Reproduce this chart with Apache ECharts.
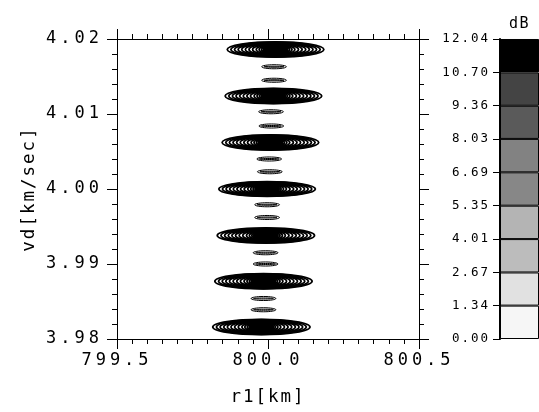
<!DOCTYPE html>
<html><head><meta charset="utf-8">
<script src="https://cdn.jsdelivr.net/npm/echarts@6/dist/echarts.min.js"></script>
<style>html,body{margin:0;padding:0;background:#fff}#c{width:539px;height:412px}</style>
</head><body><div id="c"></div>
<script>
// ---- big contour blobs: centre r1 [km], centre vd [km/sec], half sizes ----
var blobR1 = [799.978, 799.985, 799.993, 799.997, 800.008, 800.018, 800.025];
var blobVd = [3.9816, 3.9877, 3.9938, 4.0000, 4.0062, 4.0124, 4.0186];
var blobHalfR1 = [0.161, 0.161, 0.161, 0.160, 0.160, 0.160, 0.160];
var blobHalfVd = [0.00102, 0.00102, 0.00100, 0.00098, 0.00102, 0.00102, 0.00102];
// nested contour levels inside a blob (fraction of outer half size)
var ringFracR1 = [1.00, 0.925, 0.85, 0.775, 0.70, 0.625, 0.55, 0.475, 0.40, 0.34, 0.29];
var ringFracVd = [1.00, 0.96, 0.92, 0.88, 0.84, 0.80, 0.76, 0.72, 0.68, 0.64, 0.60];
var coreFracR1 = 0.25, coreFracVd = 0.75;
// ---- small lens contours between blobs ----
var smallR1 = [799.985, 799.985, 799.992, 799.992, 799.997, 799.997, 800.006, 800.004, 800.011, 800.010, 800.020, 800.020];
var smallVd = [3.9839, 3.9854, 3.9900, 3.9915, 3.9962, 3.9979, 4.0023, 4.0040, 4.0084, 4.0103, 4.0145, 4.0163];
var smallHalfR1 = 0.041, smallHalfVd = 0.00027;
var smallRingFracR1 = [1.0, 0.8];
var smallRingFracVd = [1.0, 0.25];
// ---- colour bar ----
var cbTickLabels = ['0.00','1.34','2.67','4.01','5.35','6.69','8.03','9.36','10.70','12.04'];
var cbMax = 12.04;
var cbColors = ['#f6f6f6','#e1e1e1','#bcbcbc','#b4b4b4','#878787','#828282','#5a5a5a','#444444','#000000'];

// plotting-package style wide letter spacing for the labels
(function () {
  var P = window.CanvasRenderingContext2D && CanvasRenderingContext2D.prototype;
  if (!P || !('letterSpacing' in P)) return;
  var SPACING = { '17px': '4px', '17.5px': '2px', '12.5px': '2px', '15px': '1.5px' };
  ['fillText', 'strokeText'].forEach(function (fn) {
    var orig = P[fn];
    P[fn] = function () {
      var m = /([\d.]+px)/.exec(this.font || '');
      var ls = m && SPACING[m[1]];
      if (ls) { var prev = this.letterSpacing; this.letterSpacing = ls; orig.apply(this, arguments); this.letterSpacing = prev; }
      else { orig.apply(this, arguments); }
    };
  });
})();

var FONT = 'DejaVu Sans Mono';
var items = [];
blobR1.forEach(function (x, i) {
  ringFracR1.forEach(function (f, j) {
    items.push([x, blobVd[i], blobHalfR1[i] * f, blobHalfVd[i] * ringFracVd[j], 0]);
  });
  items.push([x, blobVd[i], blobHalfR1[i] * coreFracR1, blobHalfVd[i] * coreFracVd, 1]);
});
smallR1.forEach(function (x, i) {
  smallRingFracR1.forEach(function (f, j) {
    items.push([x, smallVd[i], smallHalfR1 * f, smallHalfVd * smallRingFracVd[j], 2]);
  });
});

var cbEdges = cbTickLabels.map(parseFloat);
var cbSeries = cbColors.map(function (col, i) {
  return {
    type: 'bar', xAxisIndex: 2, yAxisIndex: 2, stack: 'cb', barWidth: '100%', silent: true,
    data: [cbEdges[i + 1] - cbEdges[i]],
    itemStyle: { color: col, borderColor: '#000', borderWidth: 1 }
  };
});

var axLine = { show: true, lineStyle: { color: '#000', width: 1 } };
var tick = { show: true, inside: false, length: 10, lineStyle: { color: '#000' } };
var chart = echarts.init(document.getElementById('c'));
chart.setOption({
  animation: false,
  title: { text: 'dB', left: 504, top: 12, textStyle: { fontFamily: FONT, fontSize: 15, fontWeight: 'normal', color: '#000' } },
  grid: [
    { left: 117, top: 39, width: 302, height: 300 },
    { left: 500, top: 39, width: 60, height: 300 }
  ],
  xAxis: [
    { gridIndex: 0, type: 'value', min: 799.5, max: 800.5, interval: 0.5, position: 'bottom',
      axisLine: axLine, splitLine: { show: false }, axisTick: tick,
      minorTick: { show: true, splitNumber: 10, length: 5, lineStyle: { color: '#000' } },
      axisLabel: { fontFamily: FONT, fontSize: 17, color: '#000', margin: 13,
        formatter: function (v) { return v.toFixed(1); } },
      name: 'r1[km]', nameLocation: 'middle', nameGap: 49,
      nameTextStyle: { fontFamily: FONT, fontSize: 17.5, color: '#000' } },
    { gridIndex: 0, type: 'value', min: 799.5, max: 800.5, interval: 0.5, position: 'top',
      axisLine: axLine, splitLine: { show: false }, axisLabel: { show: false }, axisTick: tick,
      minorTick: { show: true, splitNumber: 10, length: 5, lineStyle: { color: '#000' } } },
    { gridIndex: 1, type: 'category', data: ['dB'], show: false }
  ],
  yAxis: [
    { gridIndex: 0, type: 'value', min: 3.98, max: 4.02, interval: 0.01, position: 'left',
      axisLine: axLine, splitLine: { show: false }, axisTick: tick,
      minorTick: { show: true, splitNumber: 5, length: 5, lineStyle: { color: '#000' } },
      axisLabel: { fontFamily: FONT, fontSize: 17, color: '#000', margin: 14,
        formatter: function (v) { return v.toFixed(2); } },
      name: 'vd[km/sec]', nameLocation: 'middle', nameGap: 79, nameRotate: 90,
      nameTextStyle: { fontFamily: FONT, fontSize: 17.5, color: '#000' } },
    { gridIndex: 0, type: 'value', min: 3.98, max: 4.02, interval: 0.01, position: 'right',
      axisLine: axLine, splitLine: { show: false }, axisLabel: { show: false }, axisTick: tick,
      minorTick: { show: true, splitNumber: 5, length: 5, lineStyle: { color: '#000' } } },
    { gridIndex: 1, type: 'value', min: 0, max: cbMax, interval: cbMax / 9, position: 'left',
      axisLine: { show: true, lineStyle: { color: '#000', width: 2 } }, splitLine: { show: false },
      axisTick: { show: true, inside: false, length: 7, lineStyle: { color: '#000' } },
      axisLabel: { fontFamily: FONT, fontSize: 12.5, color: '#000', margin: 10,
        formatter: function (v) { return cbTickLabels[Math.round(v / (cbMax / 9))]; } } }
  ],
  series: [{
    type: 'custom', xAxisIndex: 0, yAxisIndex: 0, silent: true,
    encode: { x: 0, y: 1 },
    data: items,
    renderItem: function (params, api) {
      var c = api.coord([api.value(0), api.value(1)]);
      var s = api.size([api.value(2), api.value(3)]);
      var kind = api.value(4);
      return { type: 'ellipse', shape: { cx: c[0], cy: c[1], rx: s[0], ry: s[1] },
        style: { fill: kind === 1 ? '#000' : 'none', stroke: '#000', lineWidth: kind === 2 ? 1 : 1.8 } };
    }
  }].concat(cbSeries)
});
</script></body></html>
